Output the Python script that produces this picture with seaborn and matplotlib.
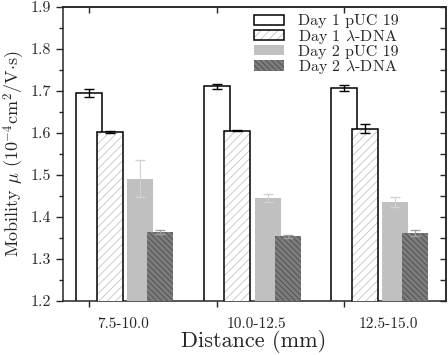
import numpy as np
import pandas as pd
import seaborn as sns
import matplotlib.pyplot as plt
from matplotlib.patches import Patch
from matplotlib.ticker import MultipleLocator, FixedLocator, NullFormatter

sns.set_style("ticks")
plt.rcParams['font.family'] = ['cmr10']
plt.rcParams['mathtext.fontset'] = 'cm'
plt.rcParams['axes.formatter.use_mathtext'] = True
plt.rcParams['hatch.linewidth'] = 0.6

# %% data
distances = ["7.5-10.0", "10.0-12.5", "12.5-15.0"]
series = ["Day 1 pUC 19", r"Day 1 $\lambda$-DNA", "Day 2 pUC 19", r"Day 2 $\lambda$-DNA"]

day1_puc = [1.695, 1.711, 1.707]
day1_puc_err = [0.009, 0.007, 0.007]
day1_lam = [1.603, 1.606, 1.610]
day1_lam_err = [0.002, 0.002, 0.011]
day2_puc = [1.491, 1.446, 1.435]
day2_puc_err = [0.044, 0.010, 0.012]
day2_lam = [1.364, 1.354, 1.362]
day2_lam_err = [0.005, 0.004, 0.007]

values = [day1_puc, day1_lam, day2_puc, day2_lam]
errors = [day1_puc_err, day1_lam_err, day2_puc_err, day2_lam_err]

# %% styling per series
offsets = [0.0, 0.162, 0.40, 0.56]
width = 0.204
faces = ["white", "white", "#c0c0c0", "#7c7c7c"]
hatches = [None, "////", None, "\\\\\\\\\\\\"]
hatch_cols = ["black", "#c4c4c4", "#c0c0c0", "#4e4e4e"]
outline = [True, True, False, False]
err_cols = ["black", "black", "#d2d2d2", "#a0a0a0"]

fig = plt.figure(figsize=(4.48, 3.55), dpi=100)
ax = fig.add_axes([0.1406, 0.152, 0.855, 0.828])

base = np.arange(len(distances))
for i in range(4):
    x = base + offsets[i]
    df = pd.DataFrame({"x": x, "y": values[i]})
    # fill (+ hatch)
    sns.barplot(data=df, x="x", y="y", native_scale=True, width=width,
                color=faces[i], saturation=1, ax=ax, zorder=2 + i)
    for p in ax.patches[-3:]:
        p.set_facecolor(faces[i])
        p.set_edgecolor(hatch_cols[i])
        p.set_linewidth(0)
        if hatches[i]:
            p.set_hatch(hatches[i])
    if outline[i]:
        sns.barplot(data=df, x="x", y="y", native_scale=True, width=width,
                    fill=False, edgecolor="black", linewidth=1.1, ax=ax,
                    zorder=2 + i)
    ax.errorbar(x, values[i], yerr=errors[i], fmt="none", ecolor=err_cols[i],
                elinewidth=1.0 if i < 2 else 0.8, capsize=3.6, capthick=1.0,
                zorder=2.5 + i)

ax.set_xlim(-0.204, 2.80)
ax.set_ylim(1.2, 1.9)

label_pos = base + np.array([0.271, 0.315, 0.35])

# ticks
ax.xaxis.set_major_locator(FixedLocator(base))
ax.xaxis.set_major_formatter(NullFormatter())
ax.xaxis.set_minor_locator(FixedLocator(label_pos))
ax.set_xticklabels(distances, minor=True, fontsize=11)
ax.tick_params(axis="x", which="major", direction="out", length=4, width=1)
ax.tick_params(axis="x", which="minor", length=0, pad=12)

ax.yaxis.set_major_locator(MultipleLocator(0.1))
ax.yaxis.set_minor_locator(MultipleLocator(0.05))
ax.yaxis.set_major_formatter(lambda v, pos: f"{v:.1f}")
ax.tick_params(axis="y", which="major", direction="out", length=5, width=1,
               labelsize=11.5)
ax.tick_params(axis="y", which="minor", direction="out", length=3, width=1)

top = ax.secondary_xaxis("top")
top.xaxis.set_major_locator(FixedLocator(base))
top.tick_params(direction="in", length=4, width=1, labeltop=False)
right = ax.secondary_yaxis("right")
right.yaxis.set_major_locator(MultipleLocator(0.05))
right.tick_params(direction="in", length=4, width=1, labelright=False)

for s in ax.spines.values():
    s.set_linewidth(1.1)
top.spines["top"].set_linewidth(1.1)
right.spines["right"].set_linewidth(1.1)

ax.set_xlabel("Distance (mm)", fontsize=16)
ax.xaxis.set_label_coords(0.497, -0.10)
ax.set_ylabel(r"Mobility $\mu$ ($10^{-4}$cm$^2$/V$\cdot$s)", fontsize=13)
ax.yaxis.set_label_coords(-0.095, 0.5)

handles = [
    Patch(facecolor="white", edgecolor="black", linewidth=1.1),
    (Patch(facecolor="white", edgecolor="#c4c4c4", hatch="////", linewidth=0),
     Patch(facecolor="none", edgecolor="black", linewidth=1.1)),
    Patch(facecolor="#c0c0c0", edgecolor="none"),
    Patch(facecolor="#7c7c7c", edgecolor="#4e4e4e", hatch="\\\\\\\\\\\\",
          linewidth=0),
]
ax.legend(handles, series, loc="upper left", frameon=False, fontsize=11.5,
          labelspacing=-0.05, handlelength=1.87, handleheight=0.62,
          handletextpad=0.85, borderpad=0, borderaxespad=0,
          bbox_to_anchor=(0.499, 0.975))

fig.savefig("out.png", dpi=100)
